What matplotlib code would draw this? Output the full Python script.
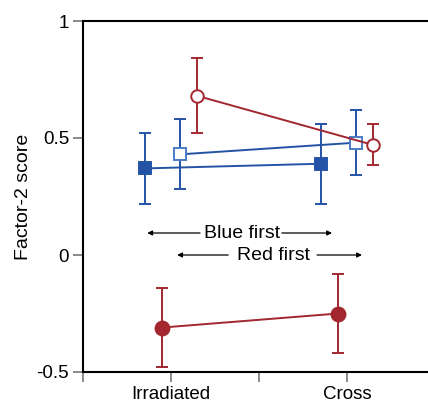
import numpy as np
import matplotlib.pyplot as plt

plt.rcParams['font.family'] = ['Liberation Sans', 'DejaVu Sans']

groups = ['Irradiated', 'Cross']
xpos = np.array([1, 3])

# blue filled square
blue_fill = [0.37, 0.39]
blue_fill_lo = [0.22, 0.22]
blue_fill_hi = [0.52, 0.56]
# blue open square
blue_open = [0.43, 0.48]
blue_open_lo = [0.28, 0.34]
blue_open_hi = [0.58, 0.62]
# red open circle
red_open = [0.68, 0.47]
red_open_lo = [0.52, 0.385]
red_open_hi = [0.84, 0.56]
# red filled circle
red_fill = [-0.31, -0.25]
red_fill_lo = [-0.48, -0.42]
red_fill_hi = [-0.14, -0.08]

blue = '#2453a6'
blue_light = '#4a7cc4'
red = '#a2272f'

fig = plt.figure(figsize=(4.28, 4.07), dpi=100)
ax = fig.add_axes([83 / 428, 35 / 407, 345 / 428, 351 / 407])


def series(off, y, lo, hi, color, marker, face, edge, ms):
    y = np.array(y)
    yerr = [y - np.array(lo), np.array(hi) - y]
    ax.errorbar(xpos + off, y, yerr=yerr, color=color, ecolor=color, elinewidth=1.4,
                capsize=4.3, capthick=1.4, lw=1.4, marker=marker, ms=ms,
                mfc=face, mec=edge, mew=1.4, zorder=3)


series(-0.3, blue_fill, blue_fill_lo, blue_fill_hi, blue, 's', blue, blue, 9)
series(0.1, blue_open, blue_open_lo, blue_open_hi, blue, 's', 'white', blue_light, 9)
series(0.3, red_open, red_open_lo, red_open_hi, red, 'o', 'white', red, 9)
series(-0.1, red_fill, red_fill_lo, red_fill_hi, red, 'o', red, red, 10)

# arrows with labels
arrow = dict(arrowstyle='-|>', color='black', lw=0.9, mutation_scale=7,
             shrinkA=0, shrinkB=0)
ax.annotate('', xy=(0.73, 0.094), xytext=(1.33, 0.094), arrowprops=arrow)
ax.annotate('', xy=(2.83, 0.094), xytext=(2.26, 0.094), arrowprops=arrow)
ax.text(1.81, 0.094, 'Blue first', ha='center', va='center', fontsize=14)
ax.annotate('', xy=(1.07, 0.0), xytext=(1.65, 0.0), arrowprops=arrow)
ax.annotate('', xy=(3.17, 0.0), xytext=(2.66, 0.0), arrowprops=arrow)
ax.text(2.165, 0.0, 'Red first', ha='center', va='center', fontsize=14)

ax.set_xlim(0, 345 / 88)
ax.set_ylim(-0.5, 1)
ax.set_xticks([0, 1, 2, 3])
ax.set_xticklabels(['', groups[0], '', groups[1]])
ax.set_yticks([-0.5, 0, 0.5, 1])
ax.set_yticklabels(['-0.5', '0', '0.5', '1'])
ax.set_ylabel('Factor-2 score', fontsize=14, labelpad=3)

ax.spines['right'].set_visible(False)
for s in ['left', 'top', 'bottom']:
    ax.spines[s].set_linewidth(1.5)
ax.tick_params(axis='both', direction='out', length=7, width=1.2, color='#777777',
               labelsize=13.5, pad=3)

fig.savefig('out.png', dpi=100)
